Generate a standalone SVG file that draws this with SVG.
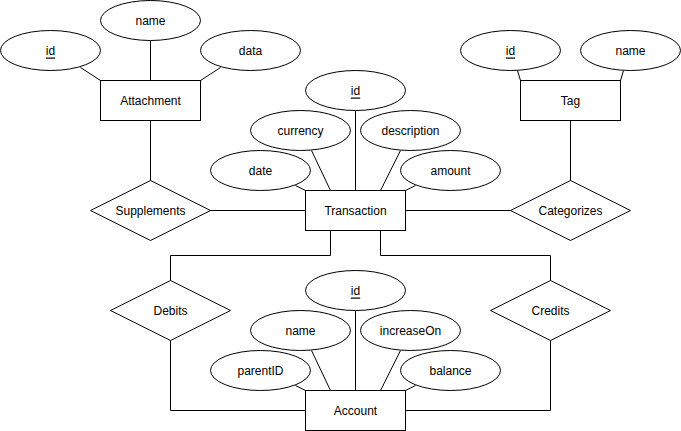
<svg xmlns="http://www.w3.org/2000/svg" width="681" height="431" viewBox="0 0 681 431">
<style>
.s{fill:#fff;stroke:#000;stroke-width:1}
.l{fill:none;stroke:#000;stroke-width:1}
text{font-family:"Liberation Sans",Arial,sans-serif;font-size:12px;fill:#000;text-anchor:middle;dominant-baseline:central}
.u{text-decoration:underline}
</style>
<rect width="681" height="431" fill="#fff"/>
<g transform="translate(0.5,0.5)">
<g id="connectors">
<path class="l" d="M80,67L100,80M150,40V80M220,67L200,80"/>
<path class="l" d="M517,70L520,80M623,70L620,80"/>
<path class="l" d="M355,110V190M311,150L330,190M400,150L380,190M295,185L305,190M415,185L405,190"/>
<path class="l" d="M355,310V390M311,350L330,390M400,350L380,390M295,385L305,390M415,385L405,390"/>
<path class="l" d="M150,120V180M210,210H305M405,210H510M570,120V180"/>
<path class="l" d="M330,230V255H170V280M170,340V410H305"/>
<path class="l" d="M380,230V255H550V280M550,340V410H405"/>
</g>
<g id="attachment"><rect class="s" x="100" y="80" width="100" height="40"/><text x="150" y="100">Attachment</text></g>
<g id="attachment-id"><ellipse class="s" cx="50" cy="50" rx="50" ry="20"/><text class="u" x="50" y="50">id</text></g>
<g id="attachment-name"><ellipse class="s" cx="150" cy="20" rx="50" ry="20"/><text x="150" y="20">name</text></g>
<g id="attachment-data"><ellipse class="s" cx="250" cy="50" rx="50" ry="20"/><text x="250" y="50">data</text></g>
<g id="tag"><rect class="s" x="520" y="80" width="100" height="40"/><text x="570" y="100">Tag</text></g>
<g id="tag-id"><ellipse class="s" cx="510" cy="50" rx="50" ry="20"/><text class="u" x="510" y="50">id</text></g>
<g id="tag-name"><ellipse class="s" cx="630" cy="50" rx="50" ry="20"/><text x="630" y="50">name</text></g>
<g id="transaction"><rect class="s" x="305" y="190" width="100" height="40"/><text x="355" y="210">Transaction</text></g>
<g id="transaction-id"><ellipse class="s" cx="355" cy="90" rx="50" ry="20"/><text class="u" x="355" y="90">id</text></g>
<g id="transaction-currency"><ellipse class="s" cx="300" cy="130" rx="50" ry="20"/><text x="300" y="130">currency</text></g>
<g id="transaction-description"><ellipse class="s" cx="410" cy="130" rx="50" ry="20"/><text x="410" y="130">description</text></g>
<g id="transaction-date"><ellipse class="s" cx="260" cy="170" rx="50" ry="20"/><text x="260" y="170">date</text></g>
<g id="transaction-amount"><ellipse class="s" cx="450" cy="170" rx="50" ry="20"/><text x="450" y="170">amount</text></g>
<g id="supplements"><path class="s" d="M90,210L150,180L210,210L150,240Z"/><text x="150" y="210">Supplements</text></g>
<g id="categorizes"><path class="s" d="M510,210L570,180L630,210L570,240Z"/><text x="570" y="210">Categorizes</text></g>
<g id="debits"><path class="s" d="M110,310L170,280L230,310L170,340Z"/><text x="170" y="310">Debits</text></g>
<g id="credits"><path class="s" d="M490,310L550,280L610,310L550,340Z"/><text x="550" y="310">Credits</text></g>
<g id="account"><rect class="s" x="305" y="390" width="100" height="40"/><text x="355" y="410">Account</text></g>
<g id="account-id"><ellipse class="s" cx="355" cy="290" rx="50" ry="20"/><text class="u" x="355" y="290">id</text></g>
<g id="account-name"><ellipse class="s" cx="300" cy="330" rx="50" ry="20"/><text x="300" y="330">name</text></g>
<g id="account-increaseOn"><ellipse class="s" cx="410" cy="330" rx="50" ry="20"/><text x="410" y="330">increaseOn</text></g>
<g id="account-parentID"><ellipse class="s" cx="260" cy="370" rx="50" ry="20"/><text x="260" y="370">parentID</text></g>
<g id="account-balance"><ellipse class="s" cx="450" cy="370" rx="50" ry="20"/><text x="450" y="370">balance</text></g>
</g>
</svg>
